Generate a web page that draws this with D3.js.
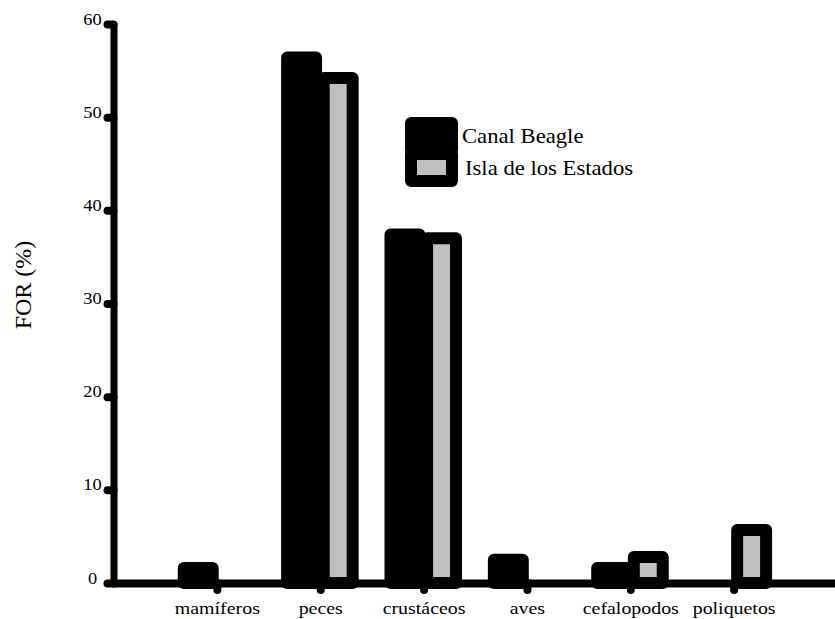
<!DOCTYPE html>
<html>
<head>
<meta charset="utf-8">
<script src="https://cdn.jsdelivr.net/npm/d3@7"></script>
<style>
  body { margin: 0; background: #fff; }
  svg { display: block; font-family: "Liberation Serif", "Times New Roman", serif; }
</style>
</head>
<body>
<script>
var categories = ["mamíferos", "peces", "crustáceos", "aves", "cefalopodos", "poliquetos"];
var canalBeagle = [1.6, 56.4, 37.4, 2.5, 1.6, 0];
var islaEstados = [0, 54.2, 37.0, 0, 2.8, 5.7];
var seriesNames = ["Canal Beagle", "Isla de los Estados"];
var yTicks = [0, 10, 20, 30, 40, 50, 60];

function drawChart(){
  var svg = d3.select("body").append("svg")
      .attr("width", 835)
      .attr("height", 619);

  var x = d3.scaleLinear().domain([0, 7]).range([113.5, 837]);
  var y = d3.scaleLinear().domain([0, 60]).range([583, 24]);
  var step = x(1) - x(0),
      bw = step * 0.28;

  var series = [
    {name: seriesNames[0], values: canalBeagle, fill: "#000", off: -step * 0.32},
    {name: seriesNames[1], values: islaEstados, fill: "#c0c0c0", off: step * 0.034}
  ];

  // bars
  svg.append("g")
    .selectAll("g")
    .data(series)
    .enter().append("g")
      .attr("fill", function(d) { return d.fill; })
    .selectAll("rect")
    .data(function(s) {
      return s.values.map(function(v, i) { return {v: v, i: i, off: s.off}; })
        .filter(function(d) { return d.v > 0; });
    })
    .enter().append("rect")
      .attr("x", function(d) { return x(d.i + 1) + d.off; })
      .attr("y", function(d) { return y(d.v); })
      .attr("width", bw)
      .attr("height", function(d) { return y(0) - y(d.v); })
      .attr("stroke", "#000")
      .attr("stroke-width", 12)
      .attr("stroke-linejoin", "round");

  // y axis
  var gy = svg.append("g")
      .attr("transform", "translate(" + x(0) + ",0)")
      .call(d3.axisLeft(y).tickValues(yTicks).tickSize(6).tickSizeOuter(0));
  gy.attr("font-family", null).attr("font-size", null);
  gy.select(".domain").attr("stroke-width", 7).attr("stroke-linecap", "round");
  gy.selectAll(".tick line").attr("stroke-width", 8).attr("stroke-linecap", "round");
  gy.selectAll(".tick text")
      .attr("x", 0).attr("dy", 0)
      .attr("text-anchor", "middle")
      .attr("font-size", 16)
      .attr("fill", "#000")
      .attr("transform", "translate(-21,0) scale(1.15,1)");

  // x axis
  var gx = svg.append("g")
      .attr("transform", "translate(0," + y(0) + ")")
      .call(d3.axisBottom(x).tickValues([1, 2, 3, 4, 5, 6])
        .tickFormat(function(d) { return categories[d - 1]; })
        .tickSize(7).tickSizeOuter(0));
  gx.attr("font-family", null).attr("font-size", null);
  gx.select(".domain").attr("stroke-width", 8).attr("stroke-linecap", "round");
  gx.selectAll(".tick line").attr("stroke-width", 8).attr("stroke-linecap", "round");
  gx.selectAll(".tick text")
      .attr("y", 0).attr("dy", 0)
      .attr("font-size", 17)
      .attr("fill", "#000")
      .attr("transform", "translate(0,31) scale(1.17,1)");

  // axis title
  svg.append("text")
      .attr("transform", "translate(31,285) rotate(-90)")
      .attr("text-anchor", "middle")
      .attr("font-size", 24)
      .text("FOR (%)");

  // legend
  var legend = svg.append("g")
    .selectAll("g")
    .data(series)
    .enter().append("g")
      .attr("transform", function(d, i) { return "translate(411," + (123 + i * 31) + ")"; });

  legend.append("rect")
      .attr("width", 41)
      .attr("height", 27)
      .attr("fill", function(d) { return d.fill; })
      .attr("stroke", "#000")
      .attr("stroke-width", 12)
      .attr("stroke-linejoin", "round");

  legend.append("text")
      .attr("transform", function(d, i) { return "translate(" + (51 + i * 3) + "," + (20 + i) + ") scale(1.08,1)"; })
      .attr("font-size", 21)
      .text(function(d) { return d.name; });
}

drawChart();
</script>
</body>
</html>
